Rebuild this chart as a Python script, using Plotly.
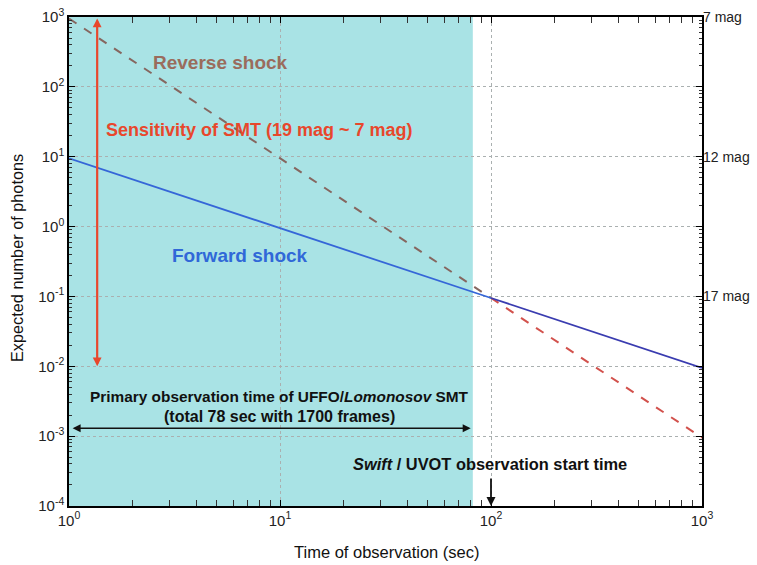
import numpy as np
import plotly.graph_objects as go

# ---- data ----
time_sec = [1, 100, 1000]
forward_shock = [9.5, 0.095, 0.0095]
reverse_shock = [950, 0.095, 0.00095]
obs_window = [1, 82]            # UFFO/Lomonosov SMT primary observation (sec)
obs_arrow_y = 1.3e-3
sensitivity_x = 1.36
sensitivity_range = [1e-2, 1e3]
swift_start = 100
swift_arrow_top = 2.6e-4
y_tick_vals = [1e-4, 1e-3, 1e-2, 1e-1, 1e0, 1e1, 1e2, 1e3]
y_tick_text = ["10<sup>-4</sup>", "10<sup>-3</sup>", "10<sup>-2</sup>", "10<sup>-1</sup>",
               "10<sup>0</sup>", "10<sup>1</sup>", "10<sup>2</sup>", "10<sup>3</sup>"]
x_tick_vals = [1, 10, 100, 1000]
x_tick_text = ["10<sup>0</sup>", "10<sup>1</sup>", "10<sup>2</sup>", "10<sup>3</sup>"]
mag_vals = [1e3, 1e1, 1e-1]
mag_text = ["7 mag", "12 mag", "17 mag"]
minor_steps = [2, 3, 4, 5, 6, 7, 8, 9]

FONT = "Liberation Sans, Arial, sans-serif"
W, H = 757, 565
# plot area in screen pixels: x 69..702, y 17..506
L, T = 69, 17
R, B = W - 702, H - 506
pw, ph = W - L - R, H - T - B

def px(x):  # screen x -> paper
    return (x - L) / pw

def py(y):  # screen y -> paper
    return (H - B - y) / ph

x_minor = [m * d for d in x_tick_vals[:-1] for m in minor_steps]
y_minor = [m * d for d in y_tick_vals[:-1] for m in minor_steps]

fig = go.Figure()

# reverse shock (dashed), brownish before 100 s, red after
fig.add_trace(go.Scatter(x=time_sec[:2], y=reverse_shock[:2], mode="lines",
                         line=dict(color="#86665f", width=2, dash="dash"),
                         showlegend=False, hoverinfo="skip"))
fig.add_trace(go.Scatter(x=time_sec[1:], y=reverse_shock[1:], mode="lines",
                         line=dict(color="#d2514c", width=2, dash="dash"),
                         showlegend=False, hoverinfo="skip"))
# forward shock
fig.add_trace(go.Scatter(x=time_sec[:2], y=forward_shock[:2], mode="lines",
                         line=dict(color="#3566d8", width=1.8),
                         showlegend=False, hoverinfo="skip"))
fig.add_trace(go.Scatter(x=time_sec[1:], y=forward_shock[1:], mode="lines",
                         line=dict(color="#3a3cb0", width=1.8),
                         showlegend=False, hoverinfo="skip"))
# invisible trace for right axis
fig.add_trace(go.Scatter(x=[time_sec[0]], y=[mag_vals[0]], yaxis="y2", mode="markers",
                         marker=dict(opacity=0), showlegend=False, hoverinfo="skip"))

# shaded observation window
fig.add_shape(type="rect", xref="x", yref="paper", x0=obs_window[0], x1=obs_window[1],
              y0=0, y1=1, fillcolor="#a9e3e5", line=dict(width=0), layer="below")

lg = np.log10
# red sensitivity arrow (double-headed)
fig.add_annotation(x=lg(sensitivity_x), y=lg(sensitivity_range[0]), xref="x", yref="y",
                   ax=lg(sensitivity_x), ay=lg(sensitivity_range[1]), axref="x", ayref="y",
                   showarrow=True, arrowhead=2, arrowside="end+start", arrowsize=0.8,
                   arrowwidth=2.2, arrowcolor="#e8472c", text="", standoff=0, startstandoff=0)
# black observation-window arrow
fig.add_annotation(x=lg(obs_window[1]) - 0.01, y=lg(obs_arrow_y), xref="x", yref="y",
                   ax=lg(obs_window[0]) + 0.01, ay=lg(obs_arrow_y), axref="x", ayref="y",
                   showarrow=True, arrowhead=2, arrowside="end+start", arrowsize=1,
                   arrowwidth=1.6, arrowcolor="#111111", text="", standoff=0, startstandoff=0)
# swift start arrow
fig.add_annotation(x=lg(swift_start), y=-4, xref="x", yref="y",
                   ax=lg(swift_start), ay=lg(swift_arrow_top), axref="x", ayref="y",
                   showarrow=True, arrowhead=2, arrowsize=1, arrowwidth=1.8,
                   arrowcolor="#111111", text="", standoff=0)

# text labels
def txt(s, x, y, color, size, xanchor="center", bold=True, angle=0):
    fig.add_annotation(text=(f"<b>{s}</b>" if bold else s), x=px(x), y=py(y),
                       xref="paper", yref="paper", showarrow=False,
                       xanchor=xanchor, yanchor="middle", textangle=angle,
                       font=dict(family=FONT, size=size, color=color))

txt("Reverse shock", 220, 62, "#9a6c5c", 19)
txt("Sensitivity of SMT (19 mag ~ 7 mag)", 104, 130, "#e8472c", 18, xanchor="left")
txt("Forward shock", 240, 255, "#3068d8", 19)
txt("Primary observation time of UFFO/<i>Lomonosov</i> SMT", 279, 396, "#111111", 15.4)
txt("(total 78 sec with 1700 frames)", 279, 416, "#111111", 16)
txt("<i>Swift</i> / UVOT observation start time", 490, 464, "#111111", 16.4)
# axis titles
txt("Time of observation (sec)", 387, 552, "#111111", 16.5, bold=False)
txt("Expected number of photons", 17, 258, "#111111", 16.3, bold=False, angle=-90)

axis_common = dict(type="log", showline=True, linecolor="black", linewidth=1.5,
                   mirror="allticks", ticks="inside", ticklen=6, tickcolor="black",
                   showgrid=True, gridcolor="#aab0b0", griddash="dot", gridwidth=1,
                   zeroline=False, automargin=False, ticklabeloverflow="allow",
                   tickfont=dict(family=FONT, size=15, color="#222222"))

fig.update_layout(
    width=W, height=H,
    margin=dict(l=L, r=R, t=T, b=B, autoexpand=False),
    paper_bgcolor="white", plot_bgcolor="white",
    showlegend=False,
    xaxis=dict(axis_common, range=[0, 3], tickvals=x_tick_vals, ticktext=x_tick_text,
               minor=dict(tickmode="array", tickvals=x_minor, ticks="inside", ticklen=3,
                          tickcolor="#333333", showgrid=False)),
    yaxis=dict(axis_common, range=[-4, 3], tickvals=y_tick_vals, ticktext=y_tick_text,
               minor=dict(tickmode="array", tickvals=y_minor, ticks="inside", ticklen=3,
                          tickcolor="#333333", showgrid=False)),
    yaxis2=dict(type="log", range=[-4, 3], overlaying="y", side="right",
                tickvals=mag_vals, ticktext=mag_text, showgrid=False, showline=False,
                ticks="", zeroline=False, automargin=False, ticklabeloverflow="allow",
                tickfont=dict(family=FONT, size=14, color="#222222")),
)

fig.write_html("out.html", config={"displayModeBar": False},
               post_script="document.body.style.margin='0px';"
                           "document.body.style.overflow='hidden';")
